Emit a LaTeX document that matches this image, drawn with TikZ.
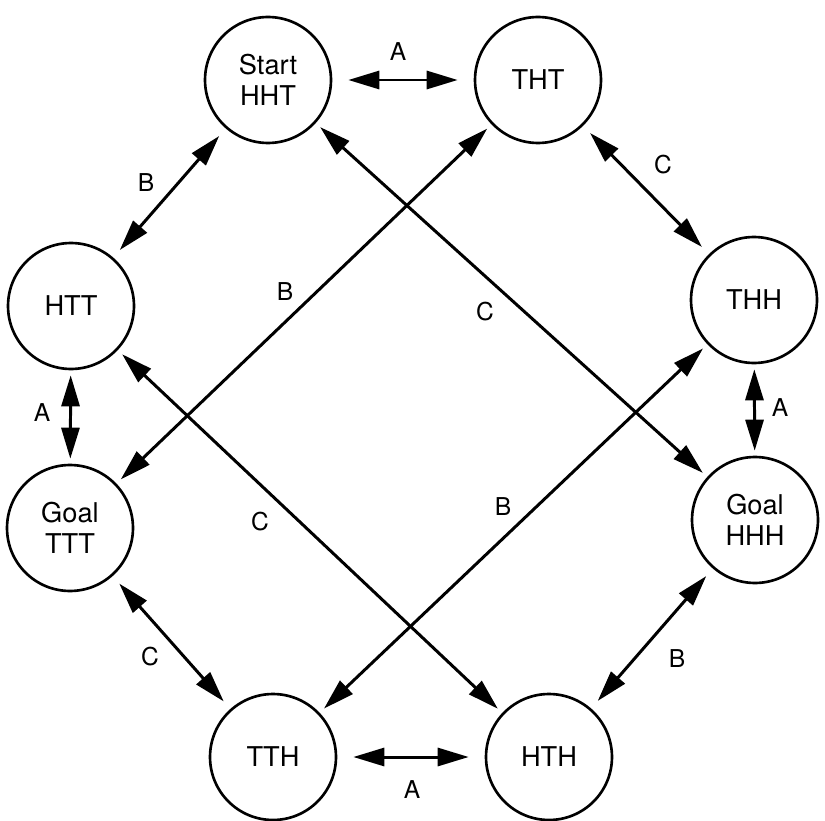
\documentclass[tikz,border=0pt]{standalone}
\usepackage{fontspec}
\setmainfont{TeX Gyre Heros}
\usetikzlibrary{arrows.meta}

\begin{document}
\begin{tikzpicture}[x=0.02cm,y=-0.02cm,
  state/.style={draw, circle, line width=1.5pt, minimum size=2.52cm, inner sep=0pt,
    align=center, font=\fontsize{15.5}{18}\selectfont},
  move/.style={draw, line width=1.7pt,
    {Triangle[length=0.62cm,width=0.36cm]}-{Triangle[length=0.62cm,width=0.36cm]}},
  lab/.style={font=\fontsize{14}{16}\selectfont}]
\useasboundingbox (0,0) rectangle (825,821);
\node[state] (start) at (268,80) {Start\\HHT};
\node[state] (tht) at (538,80) {THT};
\node[state] (htt) at (71,306) {HTT};
\node[state] (thh) at (754,300) {THH};
\node[state] (ttt) at (70,528) {Goal\\TTT};
\node[state] (hhh) at (755,520) {Goal\\HHH};
\node[state] (tth) at (273,757) {TTH};
\node[state] (hth) at (549,757) {HTH};
\path[move,shorten <=0.32cm,shorten >=0.32cm] (start) -- (tht);
\path[move,shorten <=0.32cm,shorten >=0.32cm] (tth) -- (hth);
\path[move,shorten <=0.1cm,shorten >=0.1cm] (htt) -- (ttt);
\path[move,shorten <=0.1cm,shorten >=0.1cm] (thh) -- (hhh);
\path[move,shorten <=0.2cm,shorten >=0.2cm] (start) -- (htt);
\path[move,shorten <=0.2cm,shorten >=0.2cm] (tht) -- (thh);
\path[move,shorten <=0.2cm,shorten >=0.2cm] (ttt) -- (tth);
\path[move,shorten <=0.2cm,shorten >=0.2cm] (hhh) -- (hth);
\path[move,shorten <=0.12cm,shorten >=0.12cm] (start) -- (hhh);
\path[move,shorten <=0.12cm,shorten >=0.12cm] (tht) -- (ttt);
\path[move,shorten <=0.12cm,shorten >=0.12cm] (htt) -- (hth);
\path[move,shorten <=0.12cm,shorten >=0.12cm] (thh) -- (tth);
\node[lab] (a1) at (398,52) {A};
\node[lab] (a2) at (42,413) {A};
\node[lab] (a3) at (780,408) {A};
\node[lab] (a4) at (412,790) {A};
\node[lab] (b1) at (146,183) {B};
\node[lab] (b2) at (285,292) {B};
\node[lab] (b3) at (503,507) {B};
\node[lab] (b4) at (677,659) {B};
\node[lab] (c1) at (663,165) {C};
\node[lab] (c2) at (485,312) {C};
\node[lab] (c3) at (260,522) {C};
\node[lab] (c4) at (150,657) {C};
\end{tikzpicture}
\end{document}
